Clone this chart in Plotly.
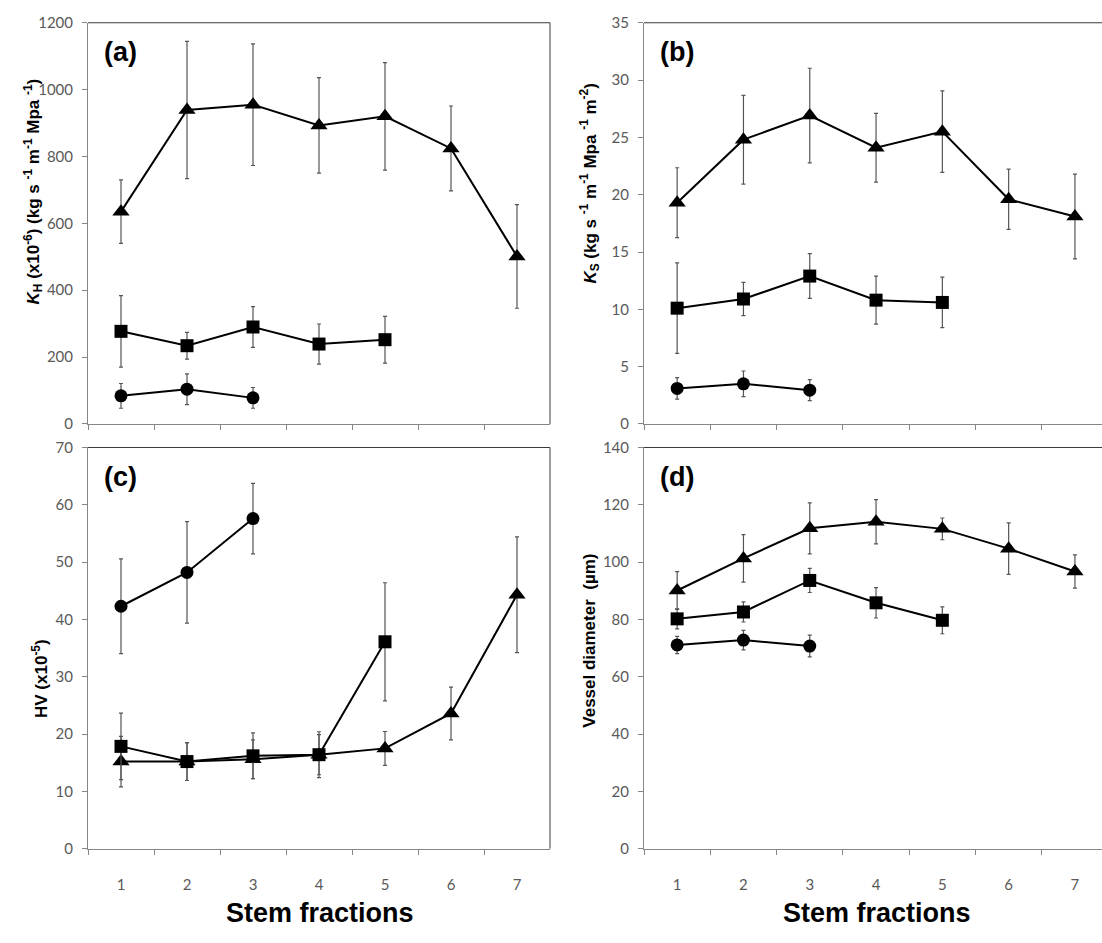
import plotly.graph_objects as go

# Stem fraction categories
fractions = ["1", "2", "3", "4", "5", "6", "7"]

# (a) hydraulic conductivity K_H (x10^-6)
kh_tri = [635, 939, 955, 893, 920, 824, 501]
kh_tri_err = [95, 205, 182, 143, 161, 127, 155]
kh_sq = [277, 234, 290, 239, 252]
kh_sq_err = [107, 40, 61, 60, 70]
kh_ci = [84, 104, 78]
kh_ci_err = [37, 46, 31]

# (b) specific conductivity K_S
ks_tri = [19.3, 24.8, 26.9, 24.1, 25.5, 19.6, 18.1]
ks_tri_err = [3.05, 3.87, 4.13, 3.0, 3.56, 2.63, 3.7]
ks_sq = [10.1, 10.9, 12.9, 10.8, 10.6]
ks_sq_err = [3.95, 1.45, 1.95, 2.1, 2.2]
ks_ci = [3.1, 3.5, 2.95]
ks_ci_err = [0.94, 1.12, 0.92]

# (c) Huber value HV (x10^-5)
hv_tri = [15.2, 15.2, 15.6, 16.4, 17.5, 23.6, 44.3]
hv_tri_err = [4.4, 3.3, 3.4, 3.5, 2.95, 4.6, 10.1]
hv_sq = [17.85, 15.2, 16.2, 16.4, 36.1]
hv_sq_err = [5.8, 3.3, 4.0, 4.0, 10.3]
hv_ci = [42.3, 48.2, 57.6]
hv_ci_err = [8.25, 8.85, 6.15]

# (d) vessel diameter (µm)
vd_tri = [90.1, 101.3, 111.8, 114.1, 111.6, 104.7, 96.7]
vd_tri_err = [6.6, 8.3, 8.9, 7.7, 3.8, 9.0, 5.8]
vd_sq = [80.2, 82.6, 93.6, 85.8, 79.7]
vd_sq_err = [3.5, 3.5, 4.2, 5.3, 4.7]
vd_ci = [71.1, 72.8, 70.7]
vd_ci_err = [3.0, 3.4, 3.8]

panel_letters = ["(a)", "(b)", "(c)", "(d)"]
y_ranges = [[0, 1200], [0, 35], [0, 70], [0, 140]]
y_dticks = [200, 5, 10, 20]
y_titles = [
    "<i>K</i><sub>H</sub> (x10<sup>-6</sup>) (kg s <sup>-1</sup> m<sup>-1</sup> Mpa <sup>-1</sup>)",
    "<i>K</i><sub>S</sub> (kg s <sup>-1</sup> m<sup>-1</sup> Mpa <sup>-1</sup> m<sup>-2</sup>)",
    "HV (x10<sup>-5</sup>)",
    "Vessel diameter  (µm)",
]
x_title = "Stem fractions"

W, H = 1102, 943
left_dom = [88 / W, 550 / W]
right_dom = [644 / W, 1.0]
top_dom = [1 - 422 / H, 1 - 13 / H]
bot_dom = [1 - 855 / H, 1 - 446 / H]

panels = [
    (kh_tri, kh_tri_err, kh_sq, kh_sq_err, kh_ci, kh_ci_err),
    (ks_tri, ks_tri_err, ks_sq, ks_sq_err, ks_ci, ks_ci_err),
    (hv_tri, hv_tri_err, hv_sq, hv_sq_err, hv_ci, hv_ci_err),
    (vd_tri, vd_tri_err, vd_sq, vd_sq_err, vd_ci, vd_ci_err),
]
domains = [
    (left_dom, top_dom),
    (right_dom, top_dom),
    (left_dom, bot_dom),
    (right_dom, bot_dom),
]

fig = go.Figure()
tick_font = dict(family="Lato, Liberation Sans, sans-serif", size=15, color="#595959")
axis_grey = "#868686"
border = "#3a3a3a"

for i, (data, (xd, yd)) in enumerate(zip(panels, domains)):
    xa = "x" if i == 0 else f"x{i + 1}"
    ya = "y" if i == 0 else f"y{i + 1}"
    tri, tri_e, sq, sq_e, ci, ci_e = data
    series = [
        (tri, tri_e, "triangle-up", 15),
        (sq, sq_e, "square", 13),
        (ci, ci_e, "circle", 13),
    ]
    for vals, errs, sym, size in series:
        fig.add_trace(go.Scatter(
            x=fractions[:len(vals)], y=vals, xaxis=xa, yaxis=ya,
            mode="lines+markers",
            line=dict(color="black", width=2),
            marker=dict(symbol=sym, size=size, color="black",
                        line=dict(color="black", width=0)),
            error_y=dict(type="data", array=errs, visible=True,
                         color="#555555", thickness=1.2, width=2),
            showlegend=False,
            cliponaxis=False,
        ))

    right_col = i in (1, 3)
    bottom_row = i in (2, 3)
    xr = [-0.5, -0.5 + 458 / 66.3] if right_col else [-0.5, 6.5]
    xkey = "xaxis" if i == 0 else f"xaxis{i + 1}"
    ykey = "yaxis" if i == 0 else f"yaxis{i + 1}"
    fig.layout[xkey] = dict(
        domain=xd, anchor=ya, type="category",
        categoryorder="array", categoryarray=fractions,
        range=xr, tickson="boundaries",
        ticks="outside", ticklen=5, tickcolor=axis_grey, tickwidth=1,
        showline=True, linecolor=axis_grey, linewidth=1,
        showgrid=False, zeroline=False,
        showticklabels=bottom_row, tickfont=tick_font,
        ticklabelstandoff=22,
        fixedrange=True,
    )
    fig.layout[ykey] = dict(
        domain=yd, anchor=xa, range=y_ranges[i], dtick=y_dticks[i],
        tick0=0,
        ticks="outside", ticklen=5, tickcolor=axis_grey, tickwidth=1,
        showline=True, linecolor=axis_grey, linewidth=1,
        showgrid=False, zeroline=False,
        tickfont=tick_font, ticklabelstandoff=6,
        fixedrange=True,
    )

    dref = xa + " domain"
    yref = ya + " domain"
    # top border of the plot area
    fig.add_shape(type="line", xref=dref, yref=yref, x0=0, x1=1, y0=1, y1=1,
                  line=dict(color=border, width=1))
    if not right_col:
        fig.add_shape(type="line", xref=dref, yref=yref, x0=1, x1=1, y0=0, y1=1,
                      line=dict(color=border, width=1))

    # panel letter
    fig.add_annotation(xref=dref, yref=yref, x=0.03, y=0.927,
                       text=f"<b>{panel_letters[i]}</b>", showarrow=False,
                       xanchor="left", yanchor="middle",
                       font=dict(family="Liberation Sans, Arial", size=27, color="black"))

# y-axis titles
title_font = dict(family="Liberation Sans, Arial", size=17, color="black")
y_title_pos = [(33, 185), (590, 177), (40, 682), (590, 643)]
for (px, py), txt in zip(y_title_pos, y_titles):
    fig.add_annotation(xref="paper", yref="paper", x=px / W, y=1 - py / H,
                       text=f"<b>{txt}</b>", textangle=-90, showarrow=False,
                       xanchor="center", yanchor="middle", font=title_font)

# x-axis titles
for px in (320, 877):
    fig.add_annotation(xref="paper", yref="paper", x=px / W, y=1 - 921 / H,
                       text=f"<b>{x_title}</b>", showarrow=False,
                       xanchor="center", yanchor="middle",
                       font=dict(family="Liberation Sans, Arial", size=27, color="black"))

fig.update_layout(
    width=W, height=H,
    margin=dict(l=0, r=0, t=0, b=0),
    paper_bgcolor="white", plot_bgcolor="white",
    showlegend=False,
)

fig.write_html("out.html", config={"displayModeBar": False})
